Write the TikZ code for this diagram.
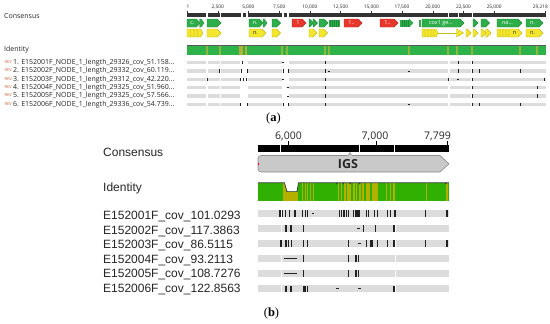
\documentclass[tikz,border=0pt]{standalone}
\usepackage{fontspec}
\setmainfont{Liberation Serif}
\newfontfamily\osans{Open Sans}
\newfontfamily\arialf{Liberation Sans}
\definecolor{gGreen}{HTML}{2EAE4A}
\definecolor{gGreenD}{HTML}{1E8A36}
\definecolor{gRed}{HTML}{E8372C}
\definecolor{gRedD}{HTML}{B82A20}
\definecolor{gYellow}{HTML}{F2E62E}
\definecolor{gYellowD}{HTML}{C8BC14}
\definecolor{idGreenA}{HTML}{2EB34A}
\definecolor{idOliveA}{HTML}{8FB83A}
\definecolor{idOliveA2}{HTML}{B3B034}
\definecolor{readGray}{HTML}{DCDCDC}
\definecolor{rulerDark}{HTML}{333333}
\definecolor{markC}{HTML}{222222}
\definecolor{revRed}{HTML}{D0602E}
\definecolor{txtA}{HTML}{262626}
\definecolor{txtB}{HTML}{262626}
\definecolor{idGreenB}{HTML}{30B000}
\definecolor{idOliveB}{HTML}{B4B000}
\definecolor{igsFill}{HTML}{C9C9C9}
\definecolor{igsDraw}{HTML}{8C8C8C}
\tikzset{
  lblA/.style={font=\osans\fontsize{7}{8}\selectfont, text=txtA, inner sep=0pt, anchor=west},
  rulA/.style={font=\osans\fontsize{4.8}{5}\selectfont, text=txtA, inner sep=0pt},
  revtag/.style={font=\osans\fontsize{4}{4}\selectfont, text=revRed, inner sep=0pt, anchor=west},
  gtxt/.style={font=\osans\fontsize{5.5}{6}\selectfont, text=white, inner sep=0pt},
  ytxt/.style={font=\osans\fontsize{5.5}{6}\selectfont, text=black!85, inner sep=0pt},
  lblB/.style={font=\arialf\fontsize{12}{14}\selectfont, text=txtB, inner sep=0pt, anchor=base west},
  rulB/.style={font=\osans\fontsize{10.5}{12}\selectfont, text=txtB, inner sep=0pt},
  figlbl/.style={font=\fontsize{12.5}{14}\selectfont, text=black, inner sep=0pt},
}
% gene arrow: x1, x2, ymid, fill, draw, tip length
\newcommand\garr[6]{\filldraw[fill=#4,draw=#5,line width=0.4pt] (#1,#3-4) -- ({#2-#6},#3-4) -- (#2,#3) -- ({#2-#6},#3+4) -- (#1,#3+4) -- cycle;}
\newcommand\tickA[2]{\foreach \x in {#2}{\fill[markC] ({\x-0.5},{#1-1.7}) rectangle ({\x+0.5},{#1+1.7});}}
\newcommand\dashA[2]{\foreach \x in {#2}{\fill[markC] ({\x-1},{#1-0.45}) rectangle ({\x+1},{#1+0.45});}}
\newcommand\tickB[2]{\foreach \x in {#2}{\fill[markC] ({\x-0.65},{#1-3.2}) rectangle ({\x+0.65},{#1+3.2});}}
\newcommand\thickB[2]{\foreach \x in {#2}{\fill[markC] ({\x-1.2},{#1-3.2}) rectangle ({\x+1.2},{#1+3.2});}}
\newcommand\dashB[2]{\foreach \x in {#2}{\fill[markC] ({\x-1.4},{#1-0.6}) rectangle ({\x+1.4},{#1+0.6});}}
\begin{document}
\begin{tikzpicture}[x=1pt,y=-1pt]
\fill[white] (0,0) rectangle (550,324);
\useasboundingbox (0,0) rectangle (550,324);

%% ================= (a) =================
\node[lblA] (consA) at (4,15.5) {Consensus};
\node[lblA] (identA) at (4,50) {Identity};

% ruler
\foreach \a/\b in {187/206,208/219.5,221/241,242.5/246,248/282,283.5/287,289/447.5,449/457.5,459/471.5,473/546}
  \fill[rulerDark] (\a,13) rectangle (\b,17);
\foreach \p/\t in {217.7/{2,500},248.4/{5,000},279.2/{7,500},309.9/{10,000},340.6/{12,500},371.3/{15,000},402.0/{17,500},432.7/{20,000},463.5/{22,500},494.2/{25,000}}{
  \draw[rulerDark, line width=0.4pt] (\p,10.5) -- (\p,13);
  \node[rulA] at (\p,6.8) {\t};
}
\draw[rulerDark, line width=0.4pt] (187.5,10.5) -- (187.5,13);
\node[rulA, anchor=west] (r1) at (186.5,6.8) {1};
\draw[rulerDark, line width=0.4pt] (545.5,10.5) -- (545.5,13);
\node[rulA, anchor=east] (rend) at (548,6.8) {29,218};

% gene row 1
\garr{187}{200}{23}{gGreen}{gGreenD}{3.5}
\node[gtxt] (gc) at (192.5,23) {c.};
\garr{199.5}{204}{23}{gGreen}{gGreenD}{3}
\garr{207}{221}{23}{gGreen}{gGreenD}{4}
\garr{249}{263}{23}{gGreen}{gGreenD}{3.5}
\node[gtxt] (gn1) at (255,23) {n.};
\garr{263}{267}{23}{gGreen}{gGreenD}{3}
\garr{272}{280.5}{23}{gGreen}{gGreenD}{4}
\garr{292}{306}{23}{gRed}{gRedD}{4}
\node[gtxt] (gr1) at (298,23) {1};
\garr{309}{313.5}{23}{gGreen}{gGreenD}{4}
\garr{313}{317.5}{23}{gGreen}{gGreenD}{4}
\garr{319}{328}{23}{gGreen}{gGreenD}{4}
\fill[gGreen] (329,19.5) rectangle (340,26.5);
\foreach \x in {330.5,332.5,...,338.5} \draw[gGreenD, line width=0.5pt] (\x,19.5) -- (\x,26.5);
\garr{344}{362}{23}{gRed}{gRedD}{4}
\node[gtxt] (gr2) at (351.5,23) {1..};
\garr{380}{398}{23}{gRed}{gRedD}{4}
\node[gtxt] (gr3) at (387.5,23) {1..};
\fill[gGreen] (400,19.5) rectangle (410,26.5);
\garr{409}{413}{23}{gGreen}{gGreen}{4}
\foreach \x in {402,404,...,408} \draw[gGreenD, line width=0.5pt] (\x,19.5) -- (\x,26.5);
\fill[gGreen] (419,19.5) rectangle (420.8,26.5);
\garr{422}{464}{23}{gGreen}{gGreenD}{4}
\node[gtxt] (gcox) at (441,23) {cox1 ge...};
\garr{473}{478}{23}{gGreen}{gGreenD}{4}
\garr{481}{489.5}{23}{gGreen}{gGreenD}{4}
\garr{497}{522}{23}{gGreen}{gGreenD}{4}
\node[gtxt] (gna) at (507.5,23) {na...};
\garr{526}{543}{23}{gGreen}{gGreenD}{4}
\node[gtxt] (gn2) at (532.5,23) {n.};

% gene row 2 (yellow)
\foreach \a in {187,190.5,194,197.5} {\garr{\a}{\a+5.5}{33}{gYellow}{gYellowD}{2.5}}
\garr{207}{221}{33}{gYellow}{gYellowD}{4}
\garr{249}{266}{33}{gYellow}{gYellowD}{4}
\node[ytxt] (yn1) at (255.5,33) {n.};
\garr{272}{280.5}{33}{gYellow}{gYellowD}{4}
\garr{309}{317}{33}{gYellow}{gYellowD}{4}
\garr{319}{327.5}{33}{gYellow}{gYellowD}{4}
\foreach \a in {422,425,...,434} {\garr{\a}{\a+4}{33}{gYellow}{gYellowD}{2}}
\draw[gYellowD, line width=0.9pt] (438,33) -- (457,33);
\garr{456.5}{463.5}{33}{gYellow}{gYellowD}{7}
\garr{466}{471}{33}{gYellow}{gYellowD}{4}
\garr{473}{478}{33}{gYellow}{gYellowD}{4}
\garr{481}{486}{33}{gYellow}{gYellowD}{4}
\garr{485.5}{491}{33}{gYellow}{gYellowD}{4}
\foreach \a in {497,500,503,506} {\garr{\a}{\a+4}{33}{gYellow}{gYellowD}{2}}
\garr{509}{522}{33}{gYellow}{gYellowD}{4}
\node[ytxt] (yn2) at (514.5,33) {n};
\garr{526}{543}{33}{gYellow}{gYellowD}{4}
\node[ytxt] (yn3) at (532.5,33) {n.};

% identity (a)
\fill[idGreenA] (187,45.5) rectangle (546,55);
\fill[black!65] (187,45) rectangle (546,46.4);
\foreach \x in {207,220,282,287,325,329,409,448,457,472,520,537}
  \fill[idOliveA] ({\x-0.6},46.4) rectangle ({\x+0.6},55);
\foreach \x in {240,242,246}
  \fill[idOliveA2] ({\x-0.6},46.4) rectangle ({\x+0.6},55);

% reads (a)
\foreach \i/\lab in {
  1/{1. E152001F\_NODE\_1\_length\_29326\_cov\_51.158...},
  2/{2. E152002F\_NODE\_1\_length\_29332\_cov\_60.119...},
  3/{3. E152003F\_NODE\_1\_length\_29312\_cov\_42.220...},
  4/{4. E152004F\_NODE\_1\_length\_29325\_cov\_51.960...},
  5/{5. E152005F\_NODE\_1\_length\_29325\_cov\_57.566...},
  6/{6. E152006F\_NODE\_1\_length\_29336\_cov\_54.739...}}{
  \pgfmathsetmacro\yy{62.7+8.33*(\i-1)}
  \node[revtag] (rev\i) at (4.5,\yy-0.5) {REV};
  \node[lblA] (readA\i) at (12.8,\yy) {\lab};
  \foreach \a/\b in {187/206,208/219.5,221/239.5,248/281.5,289/447.5,450/470.5,473/546}
    \fill[readGray] (\a,\yy-1.7) rectangle (\b,\yy+1.7);
}
\tickA{62.7}{242,325,458,472}
\dashA{62.7}{283}
\tickA{71.03}{219.5,241,247,283,288,325,458,472,479,520}
\dashA{71.03}{329,409}
\tickA{79.36}{207,240,243,246,325,448,472,544}
\dashA{79.36}{283,458}
\tickA{87.69}{325,472,537}
\dashA{87.69}{288}
\tickA{96.02}{325,472,537}
\dashA{96.02}{288}
\tickA{104.35}{240,247,283,288,325,472,479,520}
\dashA{104.35}{409}

\node[figlbl] (capA) at (273.5,118.5) {(\textbf{a})};

%% ================= (b) =================
\node[lblB] (consB) at (103,156.5) {Consensus};
\node[lblB] (identB) at (103,191) {Identity};

% ruler (b)
\fill[black] (258,145) rectangle (449,152);
\foreach \x in {280.2,359.2,394.2} \fill[white] ({\x-0.7},145) rectangle ({\x+0.7},152);
\foreach \p/\t/\q in {288/{6,000}/288.5,376/{7,000}/375,447/{7,799}/437.5}{
  \draw[black, line width=0.8pt] (\p,141.2) -- (\p,145);
  \node[rulB] at (\q,136) {\t};
}

% IGS arrow
\filldraw[fill=igsFill, draw=igsDraw, line width=0.6pt] (350,155.5) -- (440,155.5) -- (449,163.8) -- (440,172) -- (350,172) [rounded corners=3pt] -- (258,172) -- (258,155.5) -- (350,155.5) -- cycle;
\node[font=\osans\bfseries\fontsize{12.5}{14}\selectfont, text=black!85, inner sep=0pt] (igs) at (348,164) {IGS};
\fill[red] (257.5,162.6) rectangle (259,164.6);

% identity (b)
\fill[idGreenB] (258,182.8) rectangle (449,200.5);
\foreach \a/\b in {283/286,302/303.2,304.5/305.7,307/308.2,309.5/310.7,312.5/313.7,337.5/338.7,340.5/342,344/345.5,347/350.5,353/354.5,356/357.2,359/360.5,362/363.5,366/370,372/378,386/387.2,389.5/390.7,393/394.5,425.5/426.7,446/448}
  \fill[idOliveB] (\a,182.8) rectangle (\b,200.5);
\fill[white] (284.5,182.3) -- (287,191.6) -- (297,191.6) -- (298.5,182.3) -- cycle;
\fill[idOliveB] (286,191.6) rectangle (297.5,200.5);
\draw[black!80, line width=0.7pt] (258,182.8) -- (284.5,182.8) -- (287,191.6) -- (297,191.6) -- (298.5,182.8) -- (449,182.8);
\foreach \x in {337,343.5,350,359.5,446}
  \fill[black!80] ({\x-1},182.8) -- (\x,184.6) -- ({\x+1},182.8) -- cycle;

% reads (b)
\foreach \i/\lab in {1/E152001F\_cov\_101.0293, 2/E152002F\_cov\_117.3863, 3/E152003F\_cov\_86.5115, 4/E152004F\_cov\_93.2113, 5/E152005F\_cov\_108.7276, 6/E152006F\_cov\_122.8563}{
  \pgfmathsetmacro\yy{213.3+15.08*(\i-1)}
  \pgfmathsetmacro\yb{219.6+14.5*(\i-1)}
  \node[lblB] (readB\i) at (103,\yb) {\lab};
  \foreach \a/\b in {258/280.8,282.3/394.5,396/449}
    \fill[readGray] (\a,\yy-3.4) rectangle (\b,\yy+3.4);
}
% row 1
\tickB{213.3}{280,282.7,285.3,289.5,295,302.7,305.3,307.7,339.3,341.7,344,346.3,348.7,353.3,356,366.7,368.7,374.3,377.3,387.3,390.7,395,425.7}
\thickB{213.3}{358.3,446.8}
\dashB{213.3}{313}
% row 2
\tickB{228.38}{286,291,303.3,363.3,375.3,394}
\dashB{228.38}{358.3}
% row 3
\tickB{243.46}{286,288.7,291.7,303.3,307.7,348.3,366.7,377.3,387.3,394,425.7}
\thickB{243.46}{281,371.5,446.8}
\dashB{243.46}{359.5}
% row 4
\fill[markC] (284,257.84) rectangle (297.3,259.24);
\tickB{258.54}{303.3,348.3,356,358.3}
% row 5
\fill[markC] (284,272.92) rectangle (297.3,274.32);
\tickB{273.62}{303.3,348.3,356,358.3}
% row 6
\tickB{288.7}{286,291,307.5,394}
\thickB{288.7}{304.3}
\dashB{288.7}{337.8,359.5}

\node[figlbl] (capB) at (271.5,313) {(\textbf{b})};
\end{tikzpicture}
\end{document}
